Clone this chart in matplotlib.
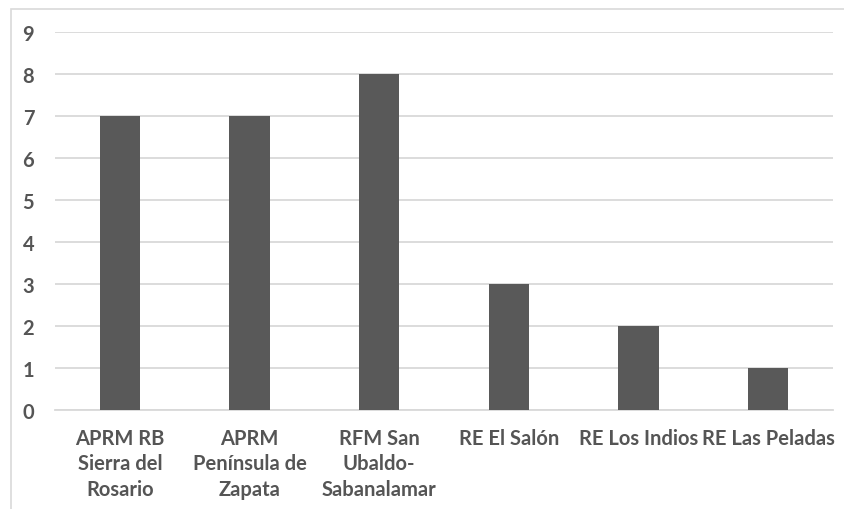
import matplotlib
matplotlib.use("Agg")
import matplotlib.pyplot as plt
from matplotlib.patches import Rectangle

categories = [
    "APRM RB\nSierra del\nRosario",
    "APRM\nPenínsula de\nZapata",
    "RFM San\nUbaldo-\nSabanalamar",
    "RE El Salón",
    "RE Los Indios",
    "RE Las Peladas",
]
values = [7, 7, 8, 3, 2, 1]
y_ticks = list(range(0, 10))

W, H = 844, 510
fig = plt.figure(figsize=(W / 100, H / 100), dpi=100)
fig.patch.set_facecolor("white")

# chart frame (only top and left edges fall inside the image)
fig.patches.append(Rectangle((11 / W, -0.1), 1.2, (H - 10) / H + 0.1,
                             transform=fig.transFigure, fill=False,
                             edgecolor="#d9d9d9", linewidth=1.2))

ax = fig.add_axes([55 / W, 1 - 411 / H, (833 - 55) / W, (411 - 33) / H])
x = list(range(len(categories)))
ax.bar(x, values, width=0.31, color="#595959", zorder=3)

ax.set_xlim(-0.5, len(categories) - 0.5)
ax.set_ylim(0, 9)
ax.set_yticks(y_ticks)
ax.yaxis.grid(True, color="#d9d9d9", linewidth=1.3, zorder=0)
for s in ["top", "right", "left"]:
    ax.spines[s].set_visible(False)
ax.spines["bottom"].set_color("#d9d9d9")
ax.spines["bottom"].set_linewidth(1.3)
ax.tick_params(length=0)

font = dict(family="Lato", weight="bold", size=14.5, color="#555555")
ax.set_yticklabels([str(t) for t in y_ticks], **font)
ax.tick_params(axis="y", pad=15)
ax.set_xticks(x)
ax.set_xticklabels(categories, linespacing=1.33, **font)
ax.tick_params(axis="x", pad=13)

fig.savefig("out.png", dpi=100, facecolor="white")
